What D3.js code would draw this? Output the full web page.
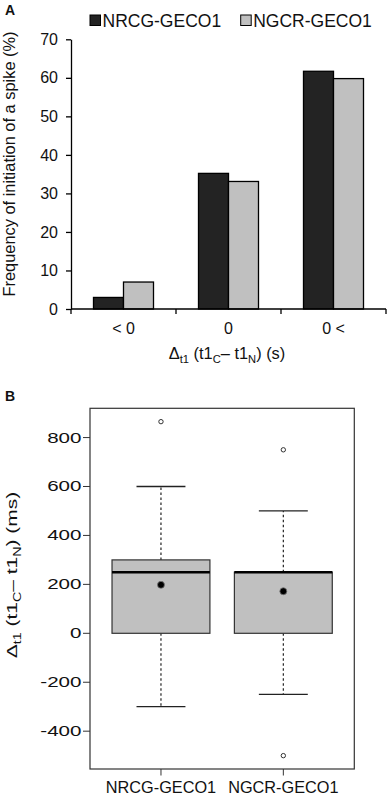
<!DOCTYPE html>
<html>
<head>
<meta charset="utf-8">
<script src="https://cdn.jsdelivr.net/npm/d3@7"></script>
<style>
  body { margin: 0; background: #fff; }
  text { font-family: "Liberation Sans", Arial, sans-serif; fill: #111; }
</style>
</head>
<body>
<div id="chart"></div>
<script>
const width = 389,
  height = 797;

// panel A data
const categories = ["< 0", "0", "0 <"];
const seriesNames = ["NRCG-GECO1", "NGCR-GECO1"];
const nrcgFreq = [3.0, 35.2, 61.7];
const ngcrFreq = [7.0, 33.1, 59.8];
const freqTicks = [0, 10, 20, 30, 40, 50, 60, 70];
const seriesColors = ["#232323", "#c0c0c0"];

// panel B data
const groups = ["NRCG-GECO1", "NGCR-GECO1"];
const lowerWhisker = [-300, -250];
const q1 = [0, 0];
const median = [250, 250];
const q3 = [300, 250];
const upperWhisker = [600, 500];
const means = [198, 172];
const outliers = [[865], [750, -500]];
const delayTicks = [-400, -200, 0, 200, 400, 600, 800];

const svg = d3.select("#chart")
  .append("svg")
  .attr("width", width)
  .attr("height", height);

// subscript label: parts are [text, isSub]
function richText(sel, parts, size) {
  let shifted = false;
  parts.forEach(([t, sub]) => {
    const ts = sel.append("tspan").text(t);
    if (sub && !shifted) { ts.attr("dy", size * 0.27).style("font-size", (size * 0.68) + "px"); shifted = true; }
    else if (sub) { ts.style("font-size", (size * 0.68) + "px"); }
    else if (shifted) { ts.attr("dy", -size * 0.27); shifted = false; }
  });
}

// ---------- Panel A ----------
svg.append("text").attr("x", 5).attr("y", 15)
  .style("font-weight", "bold").style("font-size", "14px").text("A");

const yA = d3.scaleLinear().domain([0, 70]).range([309, 39.3]);
const xA = d3.scaleBand().domain(categories).range([71, 386]);
const xSub = d3.scaleBand().domain(seriesNames).range([0, xA.bandwidth()]).paddingOuter(0.75);

const gA = svg.append("g");

const barData = categories.map((c, i) => ({ cat: c, vals: [nrcgFreq[i], ngcrFreq[i]] }));
gA.selectAll(".grp")
  .data(barData)
  .enter()
  .append("g")
  .attr("transform", d => `translate(${xA(d.cat)},0)`)
  .selectAll("rect")
  .data(d => d.vals.map((v, j) => ({ s: seriesNames[j], v: v, j: j })))
  .enter()
  .append("rect")
  .attr("x", d => xSub(d.s))
  .attr("width", xSub.bandwidth())
  .attr("y", d => yA(d.v))
  .attr("height", d => yA(0) - yA(d.v))
  .style("fill", d => seriesColors[d.j])
  .style("stroke", "#000")
  .style("stroke-width", 1.3);

// y axis
const yAxisA = gA.append("g")
  .attr("transform", "translate(71,0)")
  .call(d3.axisLeft(yA).tickValues(freqTicks).tickSize(5).tickSizeOuter(0).tickPadding(8));
yAxisA.select(".domain").style("stroke", "#000").style("stroke-width", 1.3);
yAxisA.selectAll(".tick line").style("stroke", "#000").style("stroke-width", 1.3);
yAxisA.selectAll("text").style("font-size", "16px").style("font-family", "Liberation Sans, Arial, sans-serif").style("fill", "#111");

// x axis
gA.append("line")
  .attr("x1", xA.range()[0]).attr("x2", xA.range()[1])
  .attr("y1", yA(0)).attr("y2", yA(0))
  .style("stroke", "#000").style("stroke-width", 1.3);
const bounds = categories.map(c => xA(c)).concat([xA.range()[1]]);
gA.selectAll(".xtick")
  .data(bounds)
  .enter()
  .append("line")
  .attr("x1", d => d).attr("x2", d => d)
  .attr("y1", yA(0)).attr("y2", yA(0) + 5)
  .style("stroke", "#000").style("stroke-width", 1.3);
gA.selectAll(".xlab")
  .data(categories)
  .enter()
  .append("text")
  .attr("x", d => xA(d) + xA.bandwidth() / 2)
  .attr("y", 333.5)
  .attr("text-anchor", "middle")
  .style("font-size", "16px")
  .text(d => d);

richText(gA.append("text")
  .attr("x", 227).attr("y", 359)
  .attr("text-anchor", "middle")
  .style("font-size", "16.4px"),
  [["Δ"], ["t1", true], [" (t1"], ["C", true], ["– t1"], ["N", true], [") (s)"]], 16.4);

gA.append("text")
  .attr("transform", "translate(15,164) rotate(-90)")
  .attr("text-anchor", "middle")
  .style("font-size", "16.4px")
  .text("Frequency of initiation of a spike (%)");

// legend
const legendX = [90, 240.7];
const legend = gA.selectAll(".leg")
  .data(seriesNames)
  .enter()
  .append("g")
  .attr("transform", (d, i) => `translate(${legendX[i]},15)`);
legend.append("rect")
  .attr("width", 10.5).attr("height", 10.5)
  .style("fill", (d, i) => seriesColors[i])
  .style("stroke", "#000").style("stroke-width", 1);
legend.append("text")
  .attr("x", 12.5).attr("y", 11.5)
  .style("font-size", "17.5px")
  .text(d => d);

// ---------- Panel B ----------
svg.append("text").attr("x", 5).attr("y", 401)
  .style("font-weight", "bold").style("font-size", "14px").text("B");

const allVals = lowerWhisker.concat(upperWhisker, outliers.flat());
const lo = d3.min(allVals), hi = d3.max(allVals), pad = (hi - lo) * 0.04;
const yB = d3.scaleLinear().domain([lo - pad, hi + pad]).range([769, 408.3]);
const xB = d3.scaleLinear().domain([0.42, groups.length + 0.58]).range([90, 354.3]);

const gB = svg.append("g");

gB.append("rect")
  .attr("x", xB.range()[0]).attr("y", yB.range()[1])
  .attr("width", xB.range()[1] - xB.range()[0])
  .attr("height", yB.range()[0] - yB.range()[1])
  .style("fill", "none").style("stroke", "#333").style("stroke-width", 1.2);

const boxes = groups.map((g, i) => ({
  name: g, pos: i + 1, lw: lowerWhisker[i], q1: q1[i], med: median[i],
  q3: q3[i], uw: upperWhisker[i], mean: means[i], out: outliers[i]
}));
const boxW = xB(1.4) - xB(0.6);
const capW = boxW / 2;

const box = gB.selectAll(".box")
  .data(boxes)
  .enter()
  .append("g");

// whiskers
box.append("line")
  .attr("x1", d => xB(d.pos)).attr("x2", d => xB(d.pos))
  .attr("y1", d => yB(d.q3)).attr("y2", d => yB(d.uw))
  .style("stroke", "#222").style("stroke-dasharray", "2.5,2.5").style("stroke-width", 1.2);
box.append("line")
  .attr("x1", d => xB(d.pos)).attr("x2", d => xB(d.pos))
  .attr("y1", d => yB(d.q1)).attr("y2", d => yB(d.lw))
  .style("stroke", "#222").style("stroke-dasharray", "2.5,2.5").style("stroke-width", 1.2);
["uw", "lw"].forEach(k => {
  box.append("line")
    .attr("x1", d => xB(d.pos) - capW / 2).attr("x2", d => xB(d.pos) + capW / 2)
    .attr("y1", d => yB(d[k])).attr("y2", d => yB(d[k]))
    .style("stroke", "#222").style("stroke-width", 1.3);
});

box.append("rect")
  .attr("x", d => xB(d.pos) - boxW / 2)
  .attr("width", boxW)
  .attr("y", d => yB(d.q3))
  .attr("height", d => yB(d.q1) - yB(d.q3))
  .style("fill", "#c0c0c0").style("stroke", "#333").style("stroke-width", 1.2);

box.append("line")
  .attr("x1", d => xB(d.pos) - boxW / 2).attr("x2", d => xB(d.pos) + boxW / 2)
  .attr("y1", d => yB(d.med)).attr("y2", d => yB(d.med))
  .style("stroke", "#000").style("stroke-width", 2.5);

box.append("circle")
  .attr("cx", d => xB(d.pos)).attr("cy", d => yB(d.mean))
  .attr("r", 3.5)
  .style("fill", "#000").style("stroke", "#777").style("stroke-width", 0.8);

box.selectAll(".out")
  .data(d => d.out.map(v => ({ pos: d.pos, v: v })))
  .enter()
  .append("circle")
  .attr("cx", d => xB(d.pos)).attr("cy", d => yB(d.v))
  .attr("r", 2.2)
  .style("fill", "#fff").style("stroke", "#333").style("stroke-width", 1);

// y axis B
gB.selectAll(".yt")
  .data(delayTicks)
  .enter()
  .append("line")
  .attr("x1", 83).attr("x2", 90)
  .attr("y1", d => yB(d)).attr("y2", d => yB(d))
  .style("stroke", "#333").style("stroke-width", 1);
gB.selectAll(".ylab")
  .data(delayTicks)
  .enter()
  .append("text")
  .attr("transform", d => `translate(81.5,${yB(d) + 5}) scale(1.42,1)`)
  .attr("text-anchor", "end")
  .style("font-size", "14.5px")
  .text(d => d);

// x axis B
gB.selectAll(".xt")
  .data(boxes)
  .enter()
  .append("line")
  .attr("x1", d => xB(d.pos)).attr("x2", d => xB(d.pos))
  .attr("y1", 769).attr("y2", 775.5)
  .style("stroke", "#333").style("stroke-width", 1);
gB.selectAll(".xlabB")
  .data(boxes)
  .enter()
  .append("text")
  .attr("x", d => xB(d.pos)).attr("y", 793)
  .attr("text-anchor", "middle")
  .style("font-size", "16.3px")
  .text(d => d.name);

richText(gB.append("text")
  .attr("transform", "translate(17,575) rotate(-90) scale(1.4,1)")
  .attr("text-anchor", "middle")
  .style("font-size", "15px"),
  [["Δ"], ["t1", true], [" (t1"], ["C", true], ["– t1"], ["N", true], [") (ms)"]], 15);
</script>
</body>
</html>
